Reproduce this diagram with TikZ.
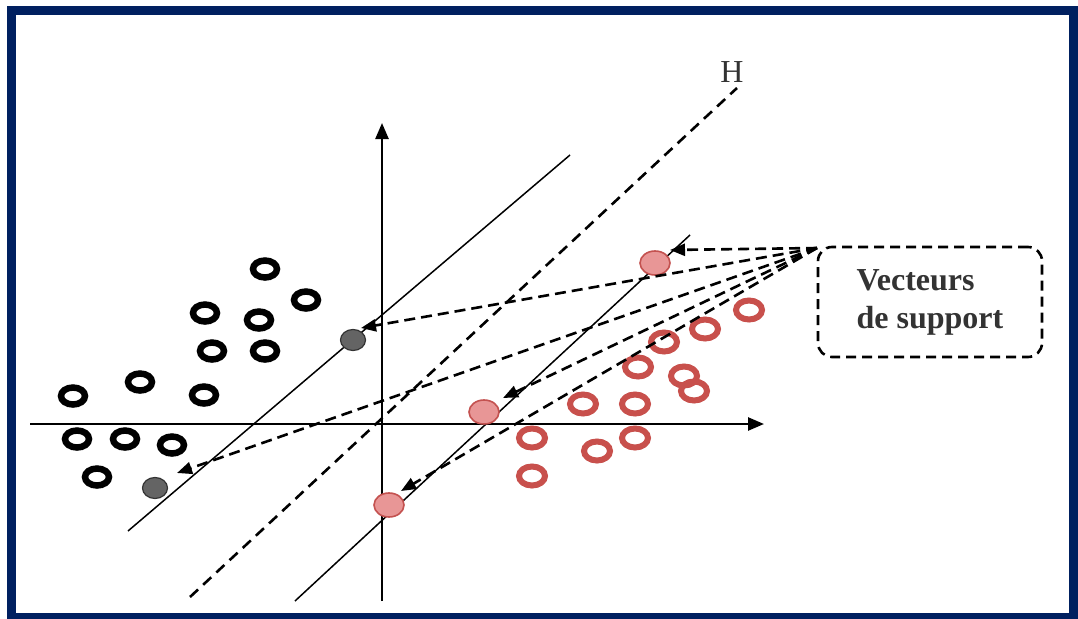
\documentclass[tikz,border=0pt]{standalone}
\usepackage{fontspec}
\setmainfont{Liberation Serif}
\usetikzlibrary{arrows.meta,shapes.geometric}
\definecolor{frameblue}{RGB}{0,32,96}
\definecolor{ringred}{RGB}{200,80,76}
\definecolor{pinkfill}{RGB}{232,150,150}
\definecolor{pinkedge}{RGB}{196,82,80}
\definecolor{svgray}{RGB}{100,100,100}
\tikzset{
  blackring/.style={ellipse,draw=black,line width=6.5pt,minimum width=24pt,minimum height=17pt,inner sep=0pt},
  redring/.style={ellipse,draw=ringred,line width=6pt,minimum width=26pt,minimum height=19pt,inner sep=0pt},
  graysv/.style={ellipse,draw=black!80,fill=svgray,line width=1.2pt,minimum width=25pt,minimum height=21pt,inner sep=0pt},
  pinksv/.style={ellipse,draw=pinkedge,fill=pinkfill,line width=1.6pt,minimum width=30pt,minimum height=24pt,inner sep=0pt},
  axisline/.style={line width=2.5pt,-{Triangle[length=16pt,width=13pt]}},
  marginline/.style={line width=1.5pt},
  hyperplane/.style={line width=2.6pt,dash pattern=on 11pt off 7pt},
  svarrow/.style={line width=2.6pt,dash pattern=on 11pt off 6pt,-{Triangle[length=15pt,width=12pt]}},
  labelbox/.style={draw,line width=2.6pt,dash pattern=on 10pt off 6pt,rounded corners=14pt,
    minimum width=224pt,minimum height=110pt,align=left,inner sep=0pt,
    font=\fontsize{32}{38}\selectfont\bfseries,text=black!80},
}
\begin{document}
\begin{tikzpicture}[x=1pt,y=-1pt]
\useasboundingbox (0,0) rectangle (1078,618);
\fill[white] (0,0) rectangle (1078,618);
% outer frame
\draw[frameblue,line width=9pt] (11,11) rectangle (1073.5,617);

% axes
\coordinate (xs) at (30,424);
\coordinate (xe) at (764,424);
\coordinate (ys) at (382,601);
\coordinate (ye) at (382,123);
\draw[axisline] (xs) -- (xe);
\draw[axisline] (ys) -- (ye);

% margins and separating hyperplane H
\coordinate (m1a) at (128,531);
\coordinate (m1b) at (570,155);
\coordinate (m2a) at (295,601);
\coordinate (m2b) at (690,235);
\coordinate (ha) at (190,597);
\coordinate (hb) at (737,88);
\draw[marginline] (m1a) -- (m1b);
\draw[marginline] (m2a) -- (m2b);
\draw[hyperplane] (ha) -- (hb);
\node[font=\fontsize{32}{32}\selectfont,text=black!80] (hlabel) at (732,72) {H};

% class -1 samples
\node[blackring] (b1) at (265,269) {};
\node[blackring] (b2) at (306,300) {};
\node[blackring] (b3) at (205,313) {};
\node[blackring] (b4) at (259,320) {};
\node[blackring] (b5) at (212,351) {};
\node[blackring] (b6) at (265,351) {};
\node[blackring] (b7) at (140,382) {};
\node[blackring] (b8) at (73,396) {};
\node[blackring] (b9) at (204,395) {};
\node[blackring] (b10) at (77,439) {};
\node[blackring] (b11) at (125,439) {};
\node[blackring] (b12) at (172,445) {};
\node[blackring] (b13) at (97,477) {};

% class +1 samples
\node[redring] (r1) at (749,310) {};
\node[redring] (r2) at (705,329) {};
\node[redring] (r3) at (664,342) {};
\node[redring] (r4) at (638,367) {};
\node[redring] (r5) at (684,376) {};
\node[redring] (r6) at (694,391) {};
\node[redring] (r7) at (583,404) {};
\node[redring] (r8) at (635,404) {};
\node[redring] (r9) at (532,438) {};
\node[redring] (r10) at (635,438) {};
\node[redring] (r11) at (597,451) {};
\node[redring] (r12) at (532,476) {};

% support vectors
\node[graysv] (g1) at (353,340) {};
\node[graysv] (g2) at (155,488) {};
\node[pinksv] (p1) at (655,263) {};
\node[pinksv] (p2) at (484,412) {};
\node[pinksv] (p3) at (389,505) {};

% label
\node[labelbox] (box) at (930,302) {Vecteurs\\de support};

% pointers from the label to the support vectors
\coordinate (src) at (817,248);
\coordinate (tp1) at (670,250);
\coordinate (tg1) at (361,328);
\coordinate (tg2) at (177,473);
\coordinate (tp2) at (503,398);
\coordinate (tp3) at (401,491);
\draw[svarrow] (src) -- (tp1);
\draw[svarrow] (src) -- (tg1);
\draw[svarrow] (src) -- (tg2);
\draw[svarrow] (src) -- (tp2);
\draw[svarrow] (src) -- (tp3);
\end{tikzpicture}
\end{document}
